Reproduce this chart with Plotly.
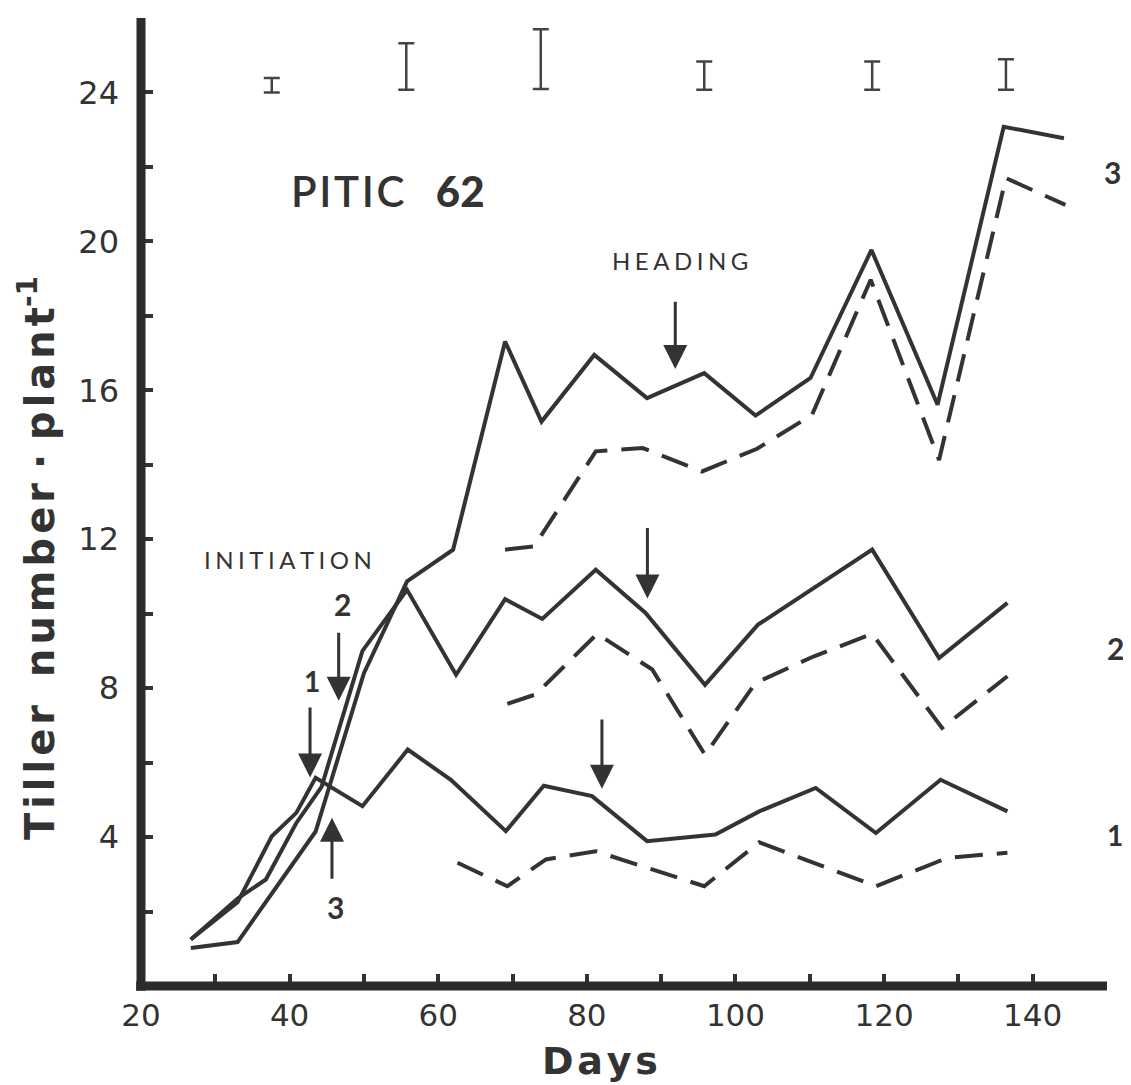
import plotly.graph_objects as go

# tiller counts (days after sowing, tillers per plant)
solid1_days = [26.7, 33.0, 37.6, 40.9, 43.5, 49.8, 55.9, 61.7, 69.1, 74.2, 80.7, 88.1, 97.3, 103.2, 110.8, 118.9, 127.6, 136.6]
solid1_vals = [1.25, 2.25, 4.02, 4.65, 5.59, 4.83, 6.35, 5.54, 4.16, 5.38, 5.10, 3.89, 4.07, 4.69, 5.32, 4.11, 5.54, 4.69]

solid2_days = [26.7, 33.0, 36.8, 40.9, 44.3, 49.8, 55.8, 62.4, 69.0, 74.0, 81.2, 87.9, 95.9, 103.0, 118.4, 127.4, 136.6]
solid2_vals = [1.25, 2.35, 2.86, 4.38, 5.35, 9.0, 10.64, 8.36, 10.39, 9.86, 11.18, 10.02, 8.09, 9.70, 11.72, 8.81, 10.29]

solid3_days = [26.7, 33.0, 43.5, 50.0, 55.8, 62.0, 69.0, 73.9, 81.0, 88.1, 95.8, 102.7, 110.1, 118.3, 127.2, 136.1, 144.2]
solid3_vals = [1.02, 1.18, 4.15, 8.4, 10.87, 11.72, 17.31, 15.16, 16.95, 15.79, 16.46, 15.32, 16.33, 19.77, 15.61, 23.08, 22.77]

dashed1_days = [62.6, 69.3, 74.5, 81.2, 95.8, 103.2, 118.9, 128.5, 136.6]
dashed1_vals = [3.31, 2.68, 3.40, 3.62, 2.68, 3.86, 2.68, 3.44, 3.58]

dashed2_days = [69.3, 73.1, 81.4, 88.8, 95.9, 102.7, 110.5, 118.4, 127.8, 136.6]
dashed2_vals = [7.58, 7.83, 9.46, 8.50, 6.21, 8.14, 8.85, 9.46, 6.93, 8.32]

dashed3_days = [69.0, 72.9, 81.2, 87.5, 95.5, 102.9, 110.3, 118.2, 127.4, 136.4, 144.4]
dashed3_vals = [11.72, 11.81, 14.36, 14.45, 13.82, 14.43, 15.34, 18.97, 14.13, 21.70, 20.98]

# LSD bars along the top
lsd_days = [37.6, 55.7, 73.8, 95.8, 118.4, 136.4]
lsd_low = [24.0, 24.07, 24.09, 24.07, 24.07, 24.07]
lsd_high = [24.39, 25.32, 25.70, 24.83, 24.83, 24.89]

x_ticks = [20, 30, 40, 50, 60, 70, 80, 90, 100, 110, 120, 130, 140, 150]
x_labels = ["20", "", "40", "", "60", "", "80", "", "100", "", "120", "", "140", ""]
y_ticks = [2, 4, 6, 8, 10, 12, 14, 16, 18, 20, 22, 24, 26]
y_labels = ["", "4", "", "8", "", "12", "", "16", "", "20", "", "24", ""]

INK = "#333333"
FONT = "Lato"
WIDE = "DejaVu Sans"
DASH = "28px,14px"
SP = "\u2009\u200a"  # wide letter spacing for the small caps labels
HAIR = "\u200a"

fig = go.Figure()

series = [
    (solid1_days, solid1_vals, "solid"),
    (solid2_days, solid2_vals, "solid"),
    (solid3_days, solid3_vals, "solid"),
    (dashed1_days, dashed1_vals, DASH),
    (dashed2_days, dashed2_vals, DASH),
    (dashed3_days, dashed3_vals, DASH),
]
for days, vals, dash in series:
    fig.add_trace(go.Scatter(
        x=days, y=vals, mode="lines",
        line=dict(color=INK, width=4, dash=dash),
        showlegend=False, hoverinfo="skip",
    ))

mid = [(lo + hi) / 2 for lo, hi in zip(lsd_low, lsd_high)]
half = [(hi - lo) / 2 for lo, hi in zip(lsd_low, lsd_high)]
fig.add_trace(go.Scatter(
    x=lsd_days, y=mid, mode="markers",
    marker=dict(size=1, color="rgba(0,0,0,0)"),
    error_y=dict(type="data", array=half, symmetric=True,
                 color="#444444", thickness=2.5, width=8),
    showlegend=False, hoverinfo="skip",
))

# heavy axis lines drawn on the plot edges
fig.add_shape(type="line", xref="paper", yref="paper", x0=0, x1=0, y0=-0.005, y1=1,
              line=dict(color="#2b2b2b", width=9))
fig.add_shape(type="line", xref="paper", yref="paper", x0=-0.005, x1=1, y0=0, y1=0,
              line=dict(color="#2b2b2b", width=9))

def label(text, x, y, size, bold=True, ref="x", family=FONT, weight=None, **kw):
    font = dict(family=family, size=size, color=INK)
    if weight:
        font["weight"] = weight
    fig.add_annotation(
        x=x, y=y, xref=ref, yref=ref.replace("x", "y"),
        xanchor="center", yanchor="middle",
        text=f"<b>{text}</b>" if bold else text,
        showarrow=False, font=font, **kw)

def arrow(x, y_tail, y_tip):
    fig.add_annotation(
        x=x, y=y_tip, ax=x, ay=y_tail, xref="x", yref="y", axref="x", ayref="y",
        text="", showarrow=True, arrowhead=2, arrowsize=1.6, arrowwidth=3,
        arrowcolor=INK)

label(HAIR.join("PITIC") + "\u2003<span style='font-weight:900'>62</span>",
      53.2, 21.36, 42, bold=False, weight=600)
label(SP.join("HEADING"), 92.5, 19.48, 24, bold=False)
label(SP.join("INITIATION"), 39.8, 11.45, 24, bold=False)
label("1", 43.0, 8.20, 28)
label("2", 47.05, 10.27, 30)
label("3", 46.2, 2.13, 30)
# labels that sit outside the data area use paper coordinates
label("3", 1.0052, 0.8409, 30, ref="paper")
label("2", 1.0083, 0.3492, 30, ref="paper")
label("1", 1.0083, 0.1560, 28, ref="paper")
label(HAIR.join("Days"), 0.4752, -0.0775, 38, ref="paper", family=WIDE)
label(HAIR.join("Tiller") + "  " + HAIR.join("number") + " · " + HAIR.join("plant") + "<sup>-1</sup>",
      -0.1077, 0.442, 40, ref="paper", family=WIDE, textangle=-90)

arrow(91.9, 18.42, 16.57)
arrow(88.15, 12.34, 10.41)
arrow(82.03, 7.20, 5.30)
arrow(42.75, 7.52, 5.60)
arrow(46.6, 9.53, 7.66)
arrow(45.7, 2.84, 4.52)

fig.update_layout(
    width=1131, height=1085,
    margin=dict(l=133, r=32, t=10, b=107),
    paper_bgcolor="white", plot_bgcolor="white",
    font=dict(family=FONT, color=INK),
    xaxis=dict(range=[20, 150], tickvals=x_ticks, ticktext=x_labels,
               ticks="inside", ticklen=12, tickwidth=4, tickcolor=INK,
               showgrid=False, zeroline=False, showline=False,
               ticklabelstandoff=8, tickfont=dict(family=WIDE, size=31, color=INK)),
    yaxis=dict(range=[0, 26], tickvals=y_ticks, ticktext=y_labels,
               ticks="inside", ticklen=12, tickwidth=4, tickcolor=INK,
               showgrid=False, zeroline=False, showline=False,
               ticklabelstandoff=21, tickfont=dict(family=WIDE, size=32, color=INK)),
)

fig.write_html("out.html")
